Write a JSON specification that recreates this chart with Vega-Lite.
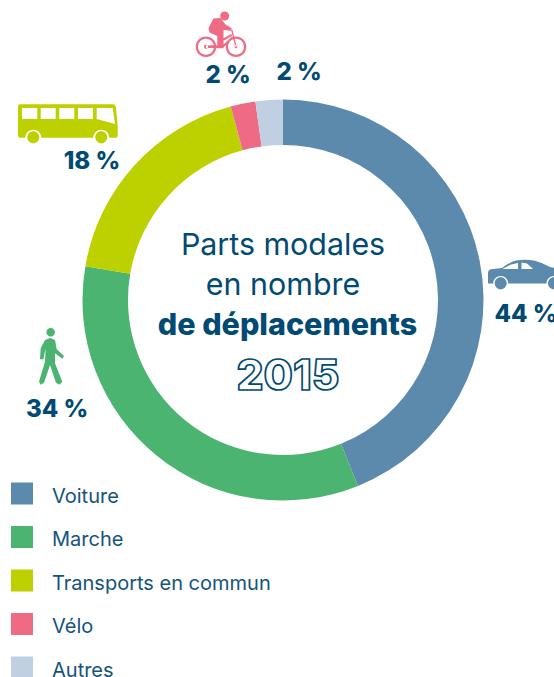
{
"$schema":"https://vega.github.io/schema/vega-lite/v6.json",
"width":401,"height":401,
"autosize":{"type":"none"},
"padding":{"left":82.5,"top":99.5,"right":70.5,"bottom":176.5},
"background":"white",
"view":{"stroke":null},
"data":{"values":[
{"mode":"Voiture","part":43.9,"rang":1,"label":"44 %"},
{"mode":"Marche","part":33.8,"rang":2,"label":"34 %"},
{"mode":"Transports en commun","part":18.1,"rang":3,"label":"18 %"},
{"mode":"Vélo","part":2.0,"rang":4,"label":"2 %"},
{"mode":"Autres","part":2.2,"rang":5,"label":"2 %"}
]},
"layer":[
{"mark":{"type":"arc","outerRadius":200.5,"innerRadius":155},
 "encoding":{
  "theta":{"field":"part","type":"quantitative","stack":true},
  "order":{"field":"rang","type":"ordinal"},
  "color":{"field":"mode","type":"nominal",
   "scale":{"domain":["Voiture","Marche","Transports en commun","Vélo","Autres"],"range":["#5b8aad","#4bb471","#bdd000","#ef6b85","#c0d0e2"]},
   "legend":{"title":null,"orient":"none","legendX":-71.5,"legendY":386,"symbolType":"M-1,-1.273L1,-1.273L1,0.727L-1,0.727Z","symbolSize":484,"symbolOpacity":1,"symbolStrokeWidth":0,"labelFont":"Inter","labelFontSize":20,"labelColor":"#15537a","labelOffset":19,"rowPadding":18.5,"labelLimit":300}}
 }},
{"transform":[{"filter":"datum.rang==1"}],"mark":{"type":"text","font":"Inter","fontWeight":800,"fontSize":24,"color":"#004a73","align":"center","baseline":"alphabetic","dx":243,"dy":21.5},"encoding":{"text":{"field":"label"}}},
{"transform":[{"filter":"datum.rang==2"}],"mark":{"type":"text","font":"Inter","fontWeight":800,"fontSize":24,"color":"#004a73","align":"center","baseline":"alphabetic","dx":-226,"dy":117},"encoding":{"text":{"field":"label"}}},
{"transform":[{"filter":"datum.rang==3"}],"mark":{"type":"text","font":"Inter","fontWeight":800,"fontSize":24,"color":"#004a73","align":"center","baseline":"alphabetic","dx":-191,"dy":-131.5},"encoding":{"text":{"field":"label"}}},
{"transform":[{"filter":"datum.rang==4"}],"mark":{"type":"text","font":"Inter","fontWeight":800,"fontSize":24,"color":"#004a73","align":"center","baseline":"alphabetic","dx":-55,"dy":-217},"encoding":{"text":{"field":"label"}}},
{"transform":[{"filter":"datum.rang==5"}],"mark":{"type":"text","font":"Inter","fontWeight":800,"fontSize":24,"color":"#004a73","align":"center","baseline":"alphabetic","dx":16,"dy":-220},"encoding":{"text":{"field":"label"}}},
{"data":{"values":[{"t":"Parts modales"}]},"mark":{"type":"text","font":"Inter","fontSize":30.4,"color":"#004a73","align":"center","baseline":"alphabetic","dx":0,"dy":-45},"encoding":{"text":{"field":"t"}}},
{"data":{"values":[{"t":"en nombre"}]},"mark":{"type":"text","font":"Inter","fontSize":30.4,"color":"#004a73","align":"center","baseline":"alphabetic","dx":0,"dy":-5},"encoding":{"text":{"field":"t"}}},
{"data":{"values":[{"t":"de déplacements"}]},"mark":{"type":"text","font":"Inter","fontWeight":800,"fontSize":30.5,"color":"#004a73","align":"center","baseline":"alphabetic","dx":4.5,"dy":35},"encoding":{"text":{"field":"t"}}},
{"data":{"values":[{"t":"2015"}]},"mark":{"type":"text","font":"Inter","fontWeight":800,"fontSize":42.5,"fill":"white","stroke":"#004a73","strokeWidth":1.7,"align":"center","baseline":"alphabetic","dx":5,"dy":90},"encoding":{"text":{"field":"t"}}},
{"transform":[{"filter":"datum.rang==1"}],"mark":{"type":"point","filled":true,"opacity":1,"color":"#5b8aad","size":4,"xOffset":237,"yOffset":-28,"shape":"M-32,11.5 L-32,1 Q-32,-3 -27,-3 L-18,-4 Q-10,-10 -4,-11.5 Q5,-13 14,-11.5 Q22,-9.5 30,-5 L40,-3 L46,11.5 L41.5,11.5 A7.5,7.5 0 0 0 26.5,11.5 L-11.8,11.5 A7.5,7.5 0 0 0 -26.8,11.5 Z M-17.5,-3 L-2,-3 L-2,-9 L-9,-7.5 Z M1.5,-3 L13,-3 L7,-8.5 L1.5,-9.5 Z M-25.3,11.3 A6,6 0 1 0 -13.3,11.3 A6,6 0 1 0 -25.3,11.3 Z M28,11.3 A6,6 0 1 0 40,11.3 A6,6 0 1 0 28,11.3 Z"},"encoding":{}},
{"transform":[{"filter":"datum.rang==2"}],"mark":{"type":"point","filled":true,"opacity":1,"color":"#4bb471","size":4,"xOffset":-233,"yOffset":58,"shape":"M-5,-18 L0,-20 L5,-18 L6.7,-8.7 L14,-2 L12.3,0.7 L5,-4.7 L5,5.3 L12.3,23.7 L9.3,26.7 L6,24.7 L0,7 L-6,24.7 L-9.3,26.7 L-11,23.7 L-5,3.7 L-4.3,-9.7 L-6.7,1.3 L-10,1.3 L-9.3,-9.7 Z M-3.6,-25.7 A4.3,4.3 0 1 0 5,-25.7 A4.3,4.3 0 1 0 -3.6,-25.7 Z"},"encoding":{}},
{"transform":[{"filter":"datum.rang==3"}],"mark":{"type":"point","filled":true,"opacity":1,"color":"#bdd000","size":4,"xOffset":-215,"yOffset":-179,"shape":"M-48,-16.7 L45,-16.7 Q47.5,-16.7 48,-14 L49.7,5 L49.7,14.7 Q49.7,16.7 47.7,16.7 L41.3,16.7 A8,8 0 0 0 25.3,16.7 L-26.7,16.7 A8,8 0 0 0 -42.7,16.7 L-48,16.7 Q-50,16.7 -50,14.7 L-50,-14.7 Q-50,-16.7 -48,-16.7 Z M-46,-13 L-46,-2 L-30.7,-2 L-30.7,-13 Z M-27.3,-13 L-27.3,-2 L-12.3,-2 L-12.3,-13 Z M-8.7,-13 L-8.7,-2 L6.3,-2 L6.3,-13 Z M10,-13 L10,-2 L25,-2 L25,-13 Z M28.7,-13 L28.7,-2 L47,3 L44.7,-13 Z M-40.7,16.3 A6,6 0 1 0 -28.7,16.3 A6,6 0 1 0 -40.7,16.3 Z M27.3,16.3 A6,6 0 1 0 39.3,16.3 A6,6 0 1 0 27.3,16.3 Z"},"encoding":{}},
{"transform":[{"filter":"datum.rang==4"}],"mark":{"type":"point","filled":true,"opacity":1,"color":"#ef6b85","size":4,"xOffset":-62,"yOffset":-268,"shape":"M-7.7,-13.5 L-0.7,-14 L4.5,-7.5 L10.7,-3.7 L10,-1.3 L2.5,-2 L2.5,16.3 L-3.7,16.3 L-3.7,4 L-11.5,0.5 L-12.5,-3.7 Z M-0.8,-16 A4.5,4.5 0 1 0 8.2,-16 A4.5,4.5 0 1 0 -0.8,-16 Z M-15,13.5 L-3,13 L-3,16 L-15,16 Z M10,-2 L11.5,-2 L15.7,14.7 L14.3,14.7 Z M2,6.5 L10.5,2 L11,4 L2,9 Z M2,13 L11,4.5 L11.5,6 L2,16 Z M-25.3,14.7 A10.3,10.3 0 1 1 -4.7,14.7 A10.3,10.3 0 1 1 -25.3,14.7 Z M-23,14.7 A8,8 0 1 0 -7,14.7 A8,8 0 1 0 -23,14.7 Z M4.7,14.7 A10.3,10.3 0 1 1 25.3,14.7 A10.3,10.3 0 1 1 4.7,14.7 Z M7,14.7 A8,8 0 1 0 23,14.7 A8,8 0 1 0 7,14.7 Z M-17,14.7 A2,2 0 1 0 -13,14.7 A2,2 0 1 0 -17,14.7 Z M13.5,14.7 A1.5,1.5 0 1 0 16.5,14.7 A1.5,1.5 0 1 0 13.5,14.7 Z"},"encoding":{}}
]
}
